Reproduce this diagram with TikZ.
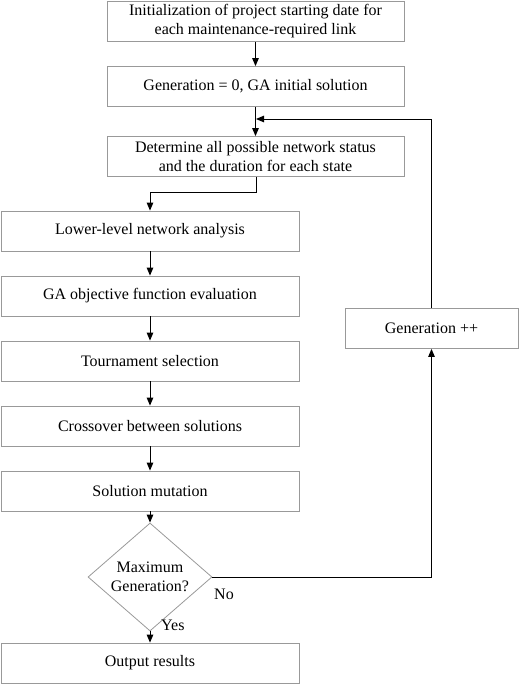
\documentclass[tikz,border=0pt]{standalone}
\usepackage{fontspec}
\setmainfont{Liberation Serif}
\usetikzlibrary{shapes.geometric,arrows.meta}
\begin{document}
\begin{tikzpicture}[x=1pt,y=-1pt,
  box/.style={draw=gray!80,line width=0.8pt,minimum height=40pt,inner sep=0pt,align=center,font=\fontsize{16}{19}\selectfont},
  topbox/.style={box,minimum width=297pt},
  leftbox/.style={box,minimum width=298pt},
  dec/.style={draw=gray!80,line width=0.8pt,diamond,minimum width=124pt,minimum height=82pt,inner sep=0pt,align=center,font=\fontsize{16}{19}\selectfont},
  conn/.style={draw=black,line width=1pt,-{Triangle[length=8pt,width=6.5pt]}},
  lbl/.style={font=\fontsize{16}{19}\selectfont,inner sep=0pt}]
\useasboundingbox (0,0) rectangle (520,685);
\node[topbox] (b1) at (255.5,21.5) {Initialization of project starting date for\\each maintenance-required link};
\node[topbox] (b2) at (255.5,86.5) {Generation = 0, GA initial solution};
\node[topbox] (b3) at (255.5,156.5) {Determine all possible network status\\and the duration for each state};
\node[leftbox] (l1) at (150,231) {Lower-level network analysis};
\node[leftbox] (l2) at (150,296) {GA objective function evaluation};
\node[leftbox] (l3) at (150,361) {Tournament selection};
\node[leftbox] (l4) at (150,426) {Crossover between solutions};
\node[leftbox] (l5) at (150,491) {Solution mutation};
\node[dec] (d) at (150,577) {Maximum\\Generation?};
\node[leftbox] (out) at (150,663) {Output results};
\node[box,minimum width=173pt] (g) at (431.5,328.5) {Generation ++};
\coordinate (m1) at (256,192);
\coordinate (m2) at (150,192);
\coordinate (j) at (256,119);
\draw[conn] (b1) -- (b2);
\draw[conn] (b2) -- (b3);
\draw[conn] (b3.south -| m1) -- (m1) -- (m2) -- (l1.north);
\draw[conn] (l1) -- (l2);
\draw[conn] (l2) -- (l3);
\draw[conn] (l3) -- (l4);
\draw[conn] (l4) -- (l5);
\draw[conn] (l5) -- (d);
\draw[conn] (d) -- (out);
\draw[conn] (d.east) -| (g.south);
\draw[conn] (g.north) |- (j);
\node[lbl,anchor=west] (no) at (214,594) {No};
\node[lbl,anchor=west] (yes) at (161,625) {Yes};
\end{tikzpicture}
\end{document}
